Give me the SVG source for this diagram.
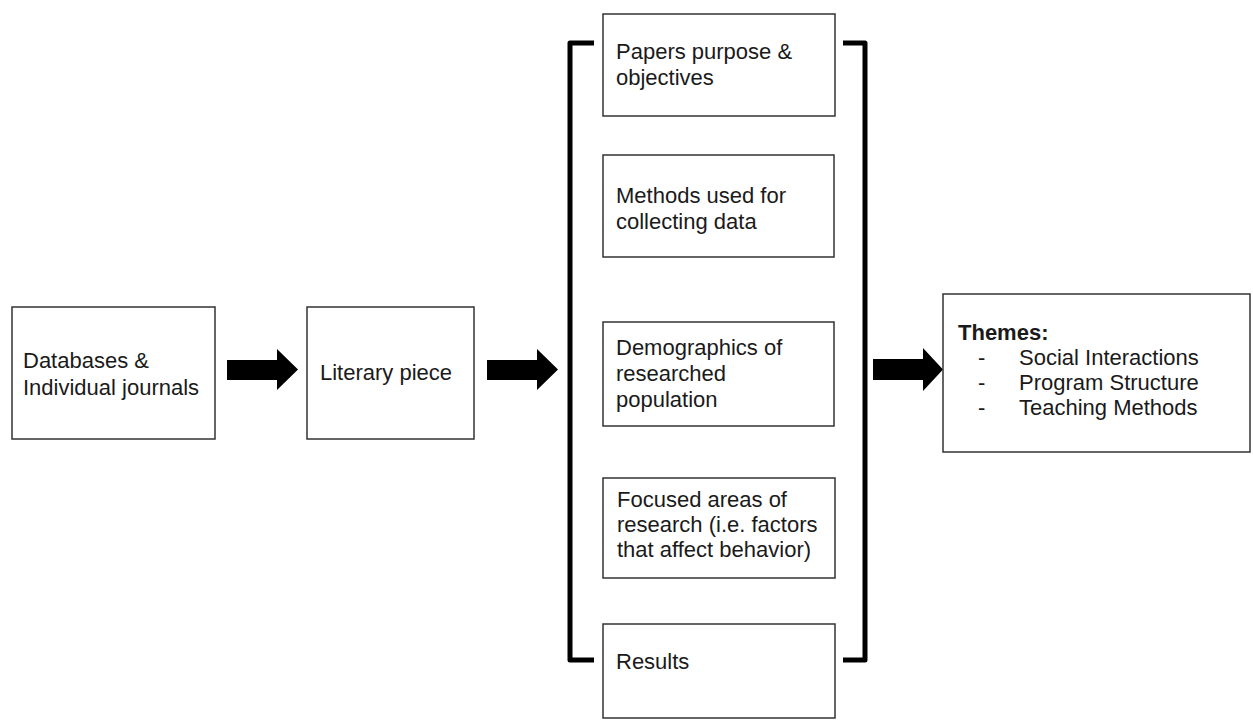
<svg xmlns="http://www.w3.org/2000/svg" width="1253" height="722" viewBox="0 0 1253 722">
<style>
.box{fill:#fff;stroke:#333;stroke-width:1.5}
.t{font-family:"Liberation Sans",Arial,sans-serif;font-size:22px;fill:#1a1a1a}
.b{font-weight:bold}
.br{fill:none;stroke:#000;stroke-width:5;stroke-linejoin:round;stroke-linecap:butt}
.ar{fill:#000}
</style>
<rect width="1253" height="722" fill="#fff"/>
<g id="connectors">
<path class="ar" d="M227,360 H277 V349 L298,369.5 L277,390 V380 H227 Z"/>
<path class="ar" d="M487,360 H537 V349 L558,369.5 L537,390 V380 H487 Z"/>
<path class="ar" d="M873,359 H923 V348 L943,369.5 L923,391 V380 H873 Z"/>
<path class="br" d="M594,43 H570 V660 H594"/>
<path class="br" d="M843,43 H865 V660 H843"/>
</g>
<g id="databases">
<rect class="box" x="12" y="307" width="203" height="132"/>
<text class="t" x="23" y="368">Databases &amp;</text>
<text class="t" x="23" y="395">Individual journals</text>
</g>
<g id="literary">
<rect class="box" x="307" y="307" width="167" height="132"/>
<text class="t" x="320" y="380">Literary piece</text>
</g>
<g id="papers">
<rect class="box" x="603" y="14" width="232" height="102"/>
<text class="t" x="616" y="59">Papers purpose &amp;</text>
<text class="t" x="616" y="85">objectives</text>
</g>
<g id="methods">
<rect class="box" x="603" y="155" width="231" height="102"/>
<text class="t" x="616" y="203">Methods used for</text>
<text class="t" x="616" y="229">collecting data</text>
</g>
<g id="demographics">
<rect class="box" x="603" y="322" width="231" height="104"/>
<text class="t" x="616" y="355">Demographics of</text>
<text class="t" x="616" y="381">researched</text>
<text class="t" x="616" y="407">population</text>
</g>
<g id="focused">
<rect class="box" x="603" y="478" width="232" height="100"/>
<text class="t" x="617" y="507">Focused areas of</text>
<text class="t" x="617" y="532">research (i.e. factors</text>
<text class="t" x="617" y="557">that affect behavior)</text>
</g>
<g id="results">
<rect class="box" x="603" y="624" width="232" height="94"/>
<text class="t" x="616" y="669">Results</text>
</g>
<g id="themes">
<rect class="box" x="943" y="294" width="307" height="158"/>
<text class="t b" x="958" y="340">Themes:</text>
<text class="t" x="978" y="365">-</text>
<text class="t" x="1019" y="365">Social Interactions</text>
<text class="t" x="978" y="390">-</text>
<text class="t" x="1019" y="390">Program Structure</text>
<text class="t" x="978" y="415">-</text>
<text class="t" x="1019" y="415">Teaching Methods</text>
</g>
</svg>
